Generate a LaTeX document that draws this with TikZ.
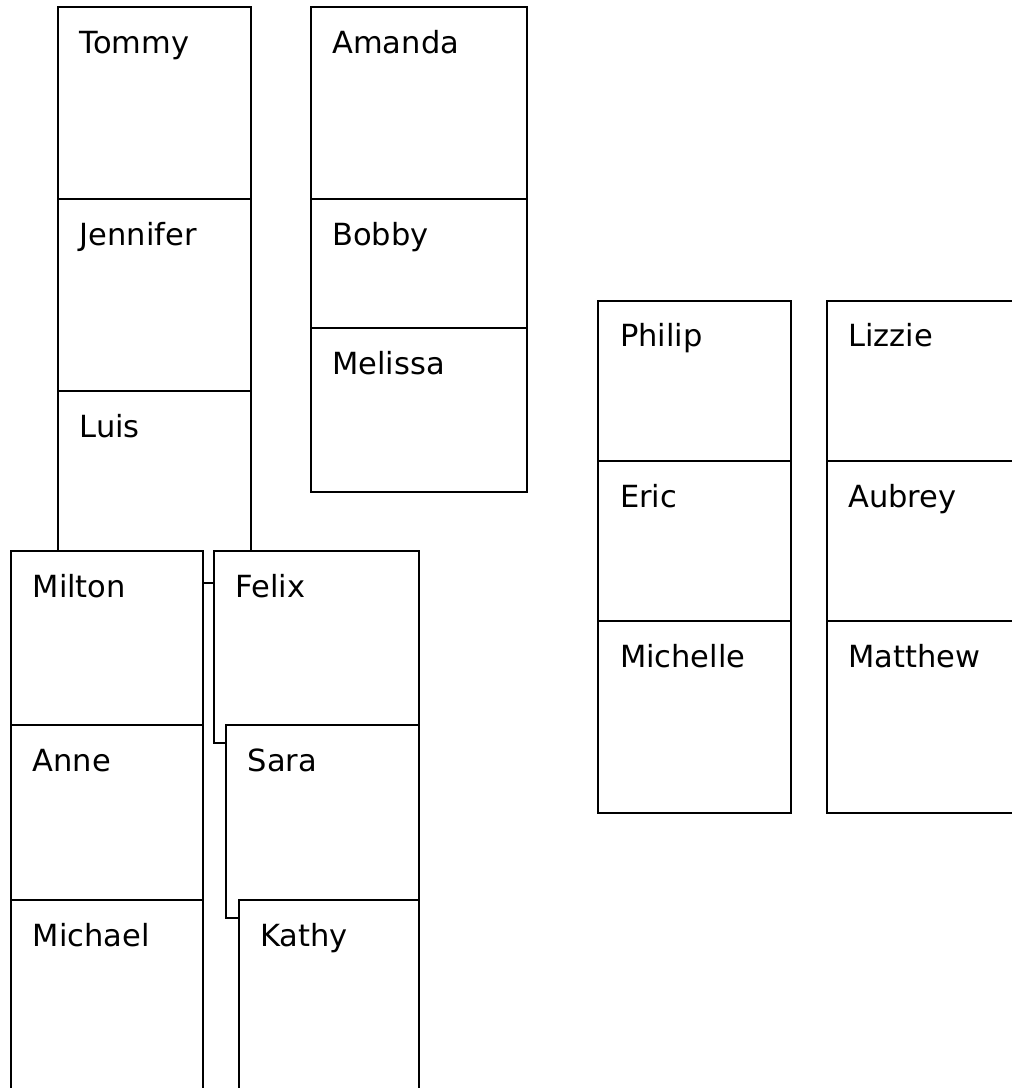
\documentclass[tikz,border=0pt]{standalone}
\usepackage{fontspec}
\setmainfont{DejaVu Sans}
\begin{document}
\begin{tikzpicture}[x=1pt,y=-1pt,
  card/.style={rectangle, draw=black, fill=white, line width=2pt, inner sep=0pt, outer sep=0pt, anchor=north west},
  cardlabel/.style={anchor=base west, inner sep=0pt, font=\fontsize{30.5}{36}\selectfont, xshift=21.5pt, yshift=-46pt},
  link/.style={draw=black, line width=2pt}]
\useasboundingbox (0,0) rectangle (1012,1088);
\clip (0,0) rectangle (1012,1088);
\fill[white] (0,0) rectangle (1012,1088);

% Tommy column
\node[card, minimum width=192.7pt, minimum height=192pt] (tommy) at (58,7) {};
\node[card, minimum width=192.7pt, minimum height=192pt] (jennifer) at (58,199) {};
\node[rectangle, inner sep=0pt, outer sep=0pt, anchor=north west, minimum width=192.7pt, minimum height=160pt] (luis) at (58,391) {};
\draw[link] (luis.south west) -- (luis.north west) -- (luis.north east) -- (luis.south east);
\node[cardlabel] (tommyT) at (tommy.north west) {Tommy};
\node[cardlabel] (jenniferT) at (jennifer.north west) {Jennifer};
\node[cardlabel] (luisT) at (luis.north west) {Luis};

% Amanda column
\node[card, minimum width=216pt, minimum height=192pt] (amanda) at (310.7,7) {};
\node[card, minimum width=216pt, minimum height=129pt] (bobby) at (310.7,199) {};
\node[card, minimum width=216pt, minimum height=164pt] (melissa) at (310.7,328) {};
\node[cardlabel] (amandaT) at (amanda.north west) {Amanda};
\node[cardlabel] (bobbyT) at (bobby.north west) {Bobby};
\node[cardlabel] (melissaT) at (melissa.north west) {Melissa};

% Milton column
\node[card, minimum width=191.7pt, minimum height=174pt] (milton) at (11,551) {};
\node[card, minimum width=191.7pt, minimum height=175pt] (anne) at (11,725) {};
\node[card, minimum width=191.7pt, minimum height=200pt] (michael) at (11,900) {};
\node[cardlabel] (miltonT) at (milton.north west) {Milton};
\node[cardlabel] (anneT) at (anne.north west) {Anne};
\node[cardlabel] (michaelT) at (michael.north west) {Michael};

% Felix stack
\node[card, minimum width=204.7pt, minimum height=192pt] (felix) at (214,551) {};
\node[card, minimum width=192.7pt, minimum height=192.7pt] (sara) at (226,725) {};
\node[card, minimum width=180.3pt, minimum height=200pt] (kathy) at (238.7,900) {};
\node[cardlabel] (felixT) at (felix.north west) {Felix};
\node[cardlabel] (saraT) at (sara.north west) {Sara};
\node[cardlabel] (kathyT) at (kathy.north west) {Kathy};

\draw[link] ([yshift=-31.7pt]milton.north east) -- ([yshift=-31.7pt]felix.north west);

% Philip column
\node[card, minimum width=192.4pt, minimum height=160.3pt] (philip) at (598.3,300.7) {};
\node[card, minimum width=192.4pt, minimum height=160pt] (eric) at (598.3,461) {};
\node[card, minimum width=192.4pt, minimum height=192.3pt] (michelle) at (598.3,621) {};
\node[cardlabel] (philipT) at (philip.north west) {Philip};
\node[cardlabel] (ericT) at (eric.north west) {Eric};
\node[cardlabel] (michelleT) at (michelle.north west) {Michelle};

% Lizzie column
\node[card, minimum width=200pt, minimum height=160.3pt] (lizzie) at (826.7,300.7) {};
\node[card, minimum width=200pt, minimum height=160pt] (aubrey) at (826.7,461) {};
\node[card, minimum width=200pt, minimum height=192.3pt] (matthew) at (826.7,621) {};
\node[cardlabel] (lizzieT) at (lizzie.north west) {Lizzie};
\node[cardlabel] (aubreyT) at (aubrey.north west) {Aubrey};
\node[cardlabel] (matthewT) at (matthew.north west) {Matthew};
\end{tikzpicture}
\end{document}
